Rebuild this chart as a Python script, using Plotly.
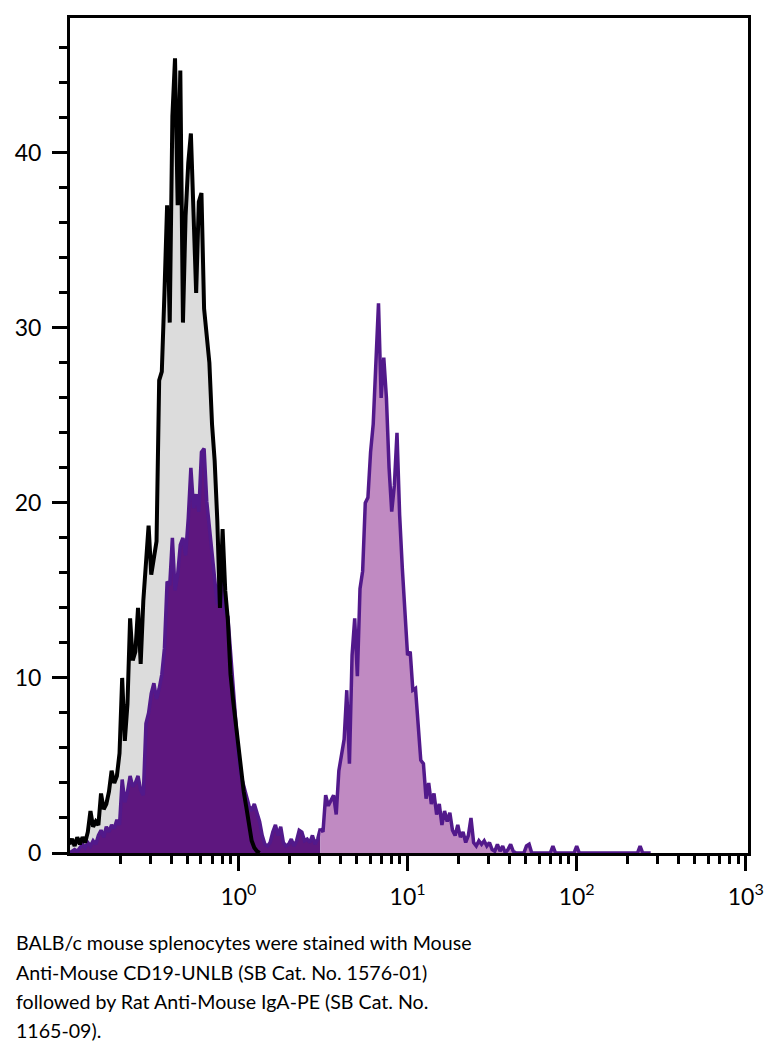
import numpy as np
import plotly.graph_objects as go

# Histogram channel grid: 64 channels per decade, starting at 10^-1
CHANNELS_PER_DECADE = 64

# Unstained / control histogram (black outline, gray fill), channels 0..72
control_counts = [
    0.5, 0.8, 0.4, 0.9, 0.5, 0.9, 0.6, 1.2, 2.4, 1.5,
    1.8, 1.6, 3.4, 2.5, 2.8, 3.5, 4.7, 4.0, 4.4, 5.7,
    10.0, 6.4, 8.5, 13.4, 11.0, 11.5, 14.0, 10.8, 14.4, 16.5,
    18.7, 15.9, 16.8, 17.8, 27.0, 27.5, 32.0, 37.0, 30.3, 42.1,
    45.4, 37.0, 44.7, 30.3, 36.4, 39.4, 41.1, 36.8, 32.0, 37.2,
    37.7, 31.1, 29.2, 28.0, 24.5, 22.4, 19.0, 14.0, 18.5, 15.0,
    13.3, 10.2, 8.7, 7.4, 6.0, 4.6, 3.5, 2.6, 1.5, 0.7,
    0.3, 0.1, 0.0,
]

# Stained histogram, negative region (dark purple fill), channels 0..95
stained_neg_counts = [
    0.0, 0.1, 0.2, 0.1, 0.3, 0.5, 0.3, 0.6, 0.4, 0.7,
    0.5, 1.0, 1.3, 0.9, 1.5, 1.2, 1.6, 1.4, 1.9, 1.6,
    4.2, 2.9, 3.5, 4.4, 3.8, 4.0, 4.4, 3.6, 3.3, 7.4,
    8.0, 9.1, 9.7, 8.8, 9.4, 10.2, 11.7, 15.5, 15.3, 18.0,
    15.0, 15.9, 17.6, 18.0, 17.0, 19.1, 22.0, 19.7, 20.5, 19.5,
    22.9, 23.1, 20.1, 18.6, 17.3, 16.1, 14.2, 16.0, 15.0, 13.8,
    13.5, 11.5, 9.0, 7.4, 5.5, 4.4, 3.8, 3.4, 2.7, 2.4,
    2.8, 2.3, 1.8, 1.0, 0.5, 0.4, 0.6, 1.2, 1.6, 1.0,
    1.5, 0.6, 0.4, 0.5, 0.8, 0.4, 0.7, 1.3, 1.2, 0.7,
    0.8, 0.6, 1.0, 0.5, 0.8, 1.4,
]

# Stained histogram, positive region (light purple fill), channels 95..220
stained_pos_counts = [
    1.4, 1.2, 3.3, 2.7, 3.0, 3.3, 2.2, 4.7, 5.6, 6.5,
    9.3, 5.1, 11.3, 13.4, 10.1, 15.1, 16.1, 20.0, 20.3, 22.9,
    24.5, 28.5, 31.4, 26.0, 28.3, 26.0, 22.0, 19.5, 21.0, 24.0,
    19.3, 16.3, 13.4, 11.3, 11.5, 9.3, 9.4, 7.2, 5.3, 5.1,
    3.1, 4.0, 2.8, 3.4, 2.2, 2.8, 1.6, 2.4, 1.8, 2.3,
    1.3, 1.0, 1.6, 0.9, 1.2, 0.6, 1.0, 2.0, 0.6, 0.4,
    0.7, 0.5, 0.7, 0.4, 0.6, 0.2, 0.1, 0.5, 0.1, 0.4,
    0.0, 0.2, 0.5, 0.1, 0.0, 0.0, 0.0, 0.0, 0.4, 0.5,
    0.0, 0.0, 0.0, 0.0, 0.0, 0.0, 0.0, 0.0, 0.4, 0.0,
    0.0, 0.0, 0.0, 0.0, 0.0, 0.0, 0.0, 0.4, 0.0, 0.0,
    0.0, 0.0, 0.0, 0.0, 0.0, 0.0, 0.0, 0.0, 0.0, 0.0,
    0.0, 0.0, 0.0, 0.0, 0.0, 0.0, 0.0, 0.0, 0.0, 0.0,
    0.0, 0.4, 0.0, 0.0, 0.0, 0.0,
]
stained_pos_start = 95

# Axis ticks
x_major_vals = [1, 10, 100, 1000]
x_major_text = ["10<sup>0</sup>", "10<sup>1</sup>", "10<sup>2</sup>", "10<sup>3</sup>"]
x_minor_vals = [m * d for d in (0.1, 1, 10, 100) for m in range(2, 10)]
y_major_vals = [0, 10, 20, 30, 40]

caption_lines = [
    "BALB/c mouse splenocytes were stained with Mouse",
    "Anti-Mouse CD19-UNLB (SB Cat. No. 1576-01)",
    "followed by Rat Anti-Mouse IgA-PE (SB Cat. No.",
    "1165-09).",
]


def channel_x(start, n):
    k = np.arange(start, start + n)
    return 10 ** (-1 + k / CHANNELS_PER_DECADE)


x_ctrl = channel_x(0, len(control_counts))
x_neg = channel_x(0, len(stained_neg_counts))
x_pos = channel_x(stained_pos_start, len(stained_pos_counts))

BLACK = "#000000"
GRAY = "#dcdcdc"
PURPLE_LINE = "#52198b"
PURPLE_DARK = "#5e177f"
PURPLE_LIGHT = "#c08ac2"

fig = go.Figure()
fig.add_trace(go.Scatter(x=x_ctrl, y=control_counts, mode="lines", fill="tozeroy",
                         fillcolor=GRAY, line=dict(width=0, color=GRAY), showlegend=False))
fig.add_trace(go.Scatter(x=x_neg, y=stained_neg_counts, mode="lines", fill="tozeroy",
                         fillcolor=PURPLE_DARK, line=dict(width=3.5, color=PURPLE_LINE), showlegend=False))
fig.add_trace(go.Scatter(x=x_pos, y=stained_pos_counts, mode="lines", fill="tozeroy",
                         fillcolor=PURPLE_LIGHT, line=dict(width=3.5, color=PURPLE_LINE), showlegend=False))
fig.add_trace(go.Scatter(x=x_ctrl, y=control_counts, mode="lines",
                         line=dict(width=4, color=BLACK), showlegend=False))

# The page body has an 8px margin; size the figure so the plot lands where the reference has it.
PAGE_OFF = 8
W, H = 767, 1048
ml, mr, mt, mb = 64 - PAGE_OFF, 27, 15 - PAGE_OFF, 203
plot_w = W - ml - mr
plot_h = H - mt - mb

tick_font = dict(family="Lato", size=23, color="black")

fig.update_layout(
    width=W, height=H,
    margin=dict(l=ml, r=mr, t=mt, b=mb),
    paper_bgcolor="white", plot_bgcolor="white",
    xaxis=dict(
        type="log", range=[-0.996, 3.013],
        tickmode="array", tickvals=x_major_vals, ticktext=x_major_text,
        ticks="outside", ticklen=15, tickwidth=2.5, tickcolor="black",
        showline=True, linewidth=3, linecolor="black", mirror=True,
        showgrid=False, zeroline=False, tickfont=tick_font,
        ticklabelstandoff=6,
        minor=dict(tickmode="array", tickvals=x_minor_vals, ticks="outside",
                   ticklen=8, tickwidth=2.5, tickcolor="black", showgrid=False),
    ),
    yaxis=dict(
        range=[0, 47.7],
        tickmode="array", tickvals=y_major_vals,
        ticks="outside", ticklen=15, tickwidth=2.5, tickcolor="black",
        showline=True, linewidth=3, linecolor="black", mirror=True,
        showgrid=False, zeroline=False, tickfont=tick_font,
        ticklabelstandoff=6,
        minor=dict(dtick=2, ticks="outside", ticklen=8, tickwidth=2.5,
                   tickcolor="black", showgrid=False),
    ),
)

line_centers_px = [943, 973, 1002, 1031]
for txt, yc in zip(caption_lines, line_centers_px):
    fig.add_annotation(
        text=txt, xref="paper", yref="paper",
        x=(8 - 64) / plot_w, y=(853 - yc) / plot_h,
        xanchor="left", yanchor="middle", showarrow=False, align="left",
        font=dict(family="Lato", size=19.6, color="black"),
    )

fig.write_html("out.html")
